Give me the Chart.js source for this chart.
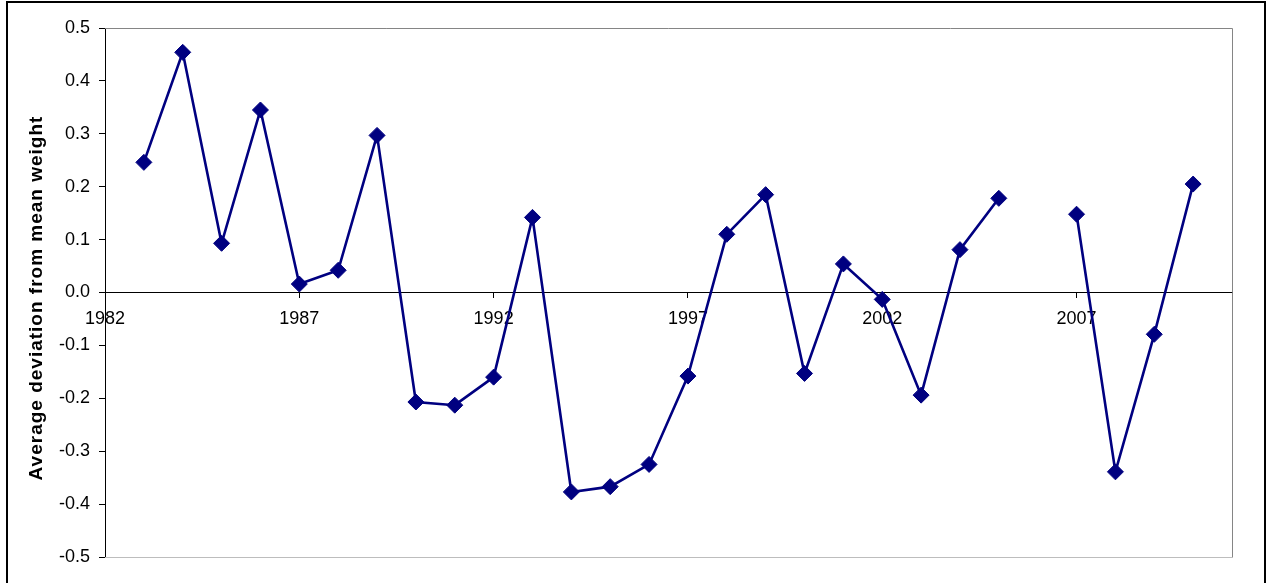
<!DOCTYPE html>
<html>
<head>
<meta charset="utf-8">
<script src="https://cdn.jsdelivr.net/npm/chart.js@4"></script>
<style>
    body { margin: 0; background: #fff; overflow: hidden; }
    #frame {
        position: absolute; left: 6px; top: 1px;
        width: 1260px; height: 700px;
        border: 2px solid #000; box-sizing: border-box;
        pointer-events: none;
    }
    #wrap { position: absolute; left: 0; top: 0; width: 1267px; height: 583px; }
</style>
</head>
<body>
<div id="wrap"><canvas id="devChart"></canvas></div>
<div id="frame"></div>
<script>
// yearly average deviation from mean weight (no survey in 2006)
const years = [1983, 1984, 1985, 1986, 1987, 1988, 1989, 1990, 1991, 1992,
    1993, 1994, 1995, 1996, 1997, 1998, 1999, 2000, 2001, 2002,
    2003, 2004, 2005, 2006, 2007, 2008, 2009, 2010];
const deviation = [0.246, 0.454, 0.093, 0.345, 0.016, 0.042, 0.297, -0.207, -0.213, -0.160,
    0.142, -0.377, -0.367, -0.325, -0.158, 0.110, 0.185, -0.153, 0.054, -0.013,
    -0.194, 0.081, 0.178, null, 0.148, -0.339, -0.079, 0.205];
const xTicks = [1982, 1987, 1992, 1997, 2002, 2007];
const yTicks = [-0.5, -0.4, -0.3, -0.2, -0.1, 0.0, 0.1, 0.2, 0.3, 0.4, 0.5];
const yTitle = "Average deviation from mean weight";

const FONT = "Arial, 'Liberation Sans', sans-serif";

// grey border round the plot area (left side is the y axis itself)
const plotFrame = {
    id: "plotFrame",
    beforeDatasetsDraw(chart) {
        const a = chart.chartArea;
        const ctx = chart.ctx;
        ctx.save();
        ctx.lineWidth = 1;
        ctx.strokeStyle = "#858585";
        ctx.beginPath();
        ctx.moveTo(a.left, a.top + 0.5);
        ctx.lineTo(a.right + 0.5, a.top + 0.5);
        ctx.lineTo(a.right + 0.5, a.bottom);
        ctx.stroke();
        ctx.strokeStyle = "#bdbdbd";
        ctx.beginPath();
        ctx.moveTo(a.left, a.bottom + 0.5);
        ctx.lineTo(a.right + 1, a.bottom + 0.5);
        ctx.stroke();
        ctx.restore();
    }
};

// rotated y axis title, drawn by hand so the letters can be spaced out a bit
const axisTitle = {
    id: "axisTitle",
    afterDraw(chart) {
        const ctx = chart.ctx;
        ctx.save();
        ctx.translate(37, 298);
        ctx.rotate(-Math.PI / 2);
        ctx.font = "bold 19px " + FONT;
        ctx.letterSpacing = "1px";
        ctx.fillStyle = "#000";
        ctx.textAlign = "center";
        ctx.textBaseline = "middle";
        ctx.fillText(yTitle, 0, 0);
        ctx.restore();
    }
};

let ctx = document.getElementById("devChart").getContext("2d");

let myChart = new Chart(ctx, {
    type: "line",
    data: {
        datasets: [{
            label: "Average deviation",
            data: years.map((yr, i) => ({ x: yr, y: deviation[i] })),
            borderColor: "#000080",
            backgroundColor: "#000080",
            borderWidth: 2.6,
            pointStyle: "rectRot",
            pointRadius: 8,
            pointBorderWidth: 1,
            pointBackgroundColor: "#000080",
            pointBorderColor: "#000080",
            spanGaps: false,
            fill: false,
            tension: 0
        }]
    },
    options: {
        responsive: true,
        maintainAspectRatio: false,
        animation: false,
        layout: { padding: { left: 0, top: 28, right: 35, bottom: 26 } },
        plugins: {
            legend: { display: false },
            tooltip: { enabled: false }
        },
        scales: {
            x: {
                type: "linear",
                position: { y: 0 },
                min: 1982,
                max: 2011,
                afterBuildTicks: (scale) => {
                    scale.ticks = xTicks.map(v => ({ value: v }));
                },
                grid: { drawOnChartArea: false, tickLength: 5, color: "#000", tickWidth: 1 },
                border: { display: true, color: "#000", width: 1 },
                ticks: {
                    autoSkip: false,
                    maxRotation: 0,
                    padding: 11,
                    color: "#000",
                    font: { family: FONT, size: 18 },
                    callback: (v) => String(v)
                }
            },
            y: {
                min: -0.5,
                max: 0.5,
                afterBuildTicks: (scale) => {
                    scale.ticks = yTicks.map(v => ({ value: v }));
                },
                afterFit: (scale) => { scale.width = 105; },
                grid: { drawOnChartArea: false, tickLength: 6, color: "#000", tickWidth: 1 },
                border: { display: true, color: "#000", width: 1 },
                ticks: {
                    padding: 9,
                    color: "#000",
                    font: { family: FONT, size: 18 },
                    callback: (v) => Number(v).toFixed(1)
                }
            }
        }
    },
    plugins: [plotFrame, axisTitle]
});
</script>
</body>
</html>
